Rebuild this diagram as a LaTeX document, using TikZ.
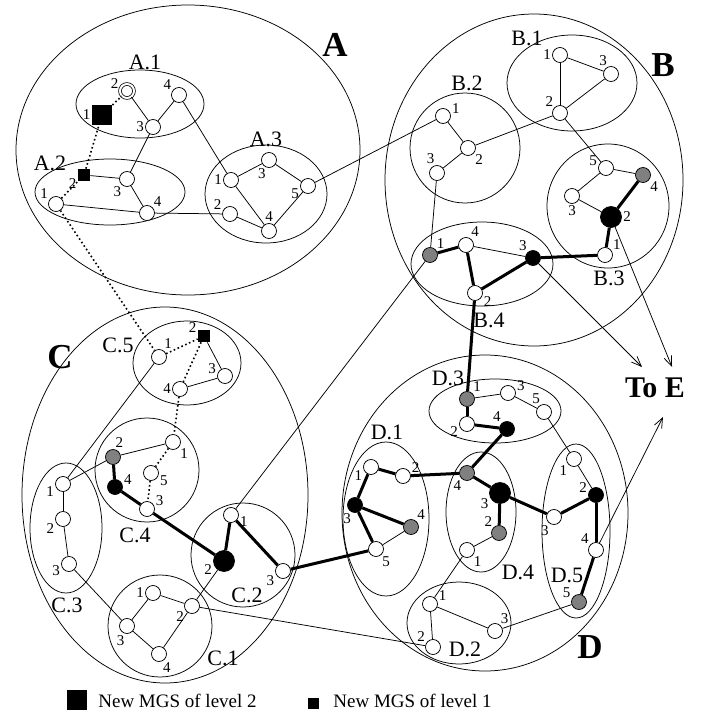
\documentclass[tikz,border=0pt]{standalone}
\usepackage{fontspec}
\setmainfont{Liberation Serif}
\usetikzlibrary{shapes.geometric,arrows.meta}
\tikzset{
v/.style={circle, draw, fill=white, minimum size=15pt, inner sep=0pt},
g/.style={v, fill=gray},
b/.style={v, fill=black},
bb/.style={v, fill=black, minimum size=21pt},
dv/.style={v, minimum size=14pt, double, double distance=2pt},
sq/.style={rectangle, fill=black, minimum size=20pt, inner sep=0pt},
sqs/.style={sq, minimum size=12pt},
grp/.style={ellipse, draw, inner sep=0pt},
num/.style={font=\fontsize{15}{15}\selectfont, inner sep=1pt},
grplbl/.style={font=\fontsize{22}{22}\selectfont, inner sep=0pt},
biglbl/.style={font=\fontsize{35}{35}\selectfont\bfseries, inner sep=0pt},
keytext/.style={font=\fontsize{19}{19}\selectfont, anchor=west, inner sep=0pt},
heavy/.style={line width=3pt},
dots/.style={line width=1.6pt, dash pattern=on 1.6pt off 2.6pt},
arrow/.style={->, >={Straight Barb[length=10pt,width=8pt]}},
}

\begin{document}
\begin{tikzpicture}[x=1pt, y=-1pt, line width=0.75pt]
\useasboundingbox (0,0) rectangle (703,715);

% clusters
\node[grp, minimum width=344, minimum height=290] (ell_a) at (188,150) {};
\node[grp, minimum width=298, minimum height=332] (ell_b) at (534,180) {};
\node[grp, minimum width=286, minimum height=376] (ell_c) at (165,495) {};
\node[grp, minimum width=286, minimum height=316] (ell_d) at (485,513) {};

\node[grp, minimum width=128, minimum height=68] (ell_a1) at (140,104) {};
\node[grp, minimum width=150, minimum height=66] (ell_a2) at (110,192) {};
\node[grp, minimum width=122, minimum height=98] (ell_a3) at (266,194) {};
\node[grp, minimum width=130, minimum height=96] (ell_b1) at (572,83) {};
\node[grp, minimum width=110, minimum height=110] (ell_b2) at (465,148) {};
\node[grp, minimum width=122, minimum height=124] (ell_b3) at (608,206) {};
\node[grp, minimum width=142, minimum height=84] (ell_b4) at (482,264) {};
\node[grp, minimum width=108, minimum height=84] (ell_c5) at (187,363) {};
\node[grp, minimum width=104, minimum height=104] (ell_c4) at (147,470) {};
\node[grp, minimum width=72, minimum height=130] (ell_c3) at (66,528) {};
\node[grp, minimum width=104, minimum height=104] (ell_c2) at (243,555) {};
\node[grp, minimum width=104, minimum height=102] (ell_c1) at (160,626) {};
\node[grp, minimum width=132, minimum height=64] (ell_d3) at (495,411) {};
\node[grp, minimum width=86, minimum height=154] (ell_d1) at (386,519) {};
\node[grp, minimum width=70, minimum height=120] (ell_d4) at (481,512) {};
\node[grp, minimum width=68, minimum height=174] (ell_d5) at (576,531) {};
\node[grp, minimum width=104, minimum height=82] (ell_d2) at (459,623) {};

\node[biglbl] (lbl_a) at (335,45) {A};
\node[biglbl] (lbl_b) at (663,65) {B};
\node[biglbl] (lbl_c) at (60,357) {C};
\node[biglbl] (lbl_d) at (590,647) {D};
\node[biglbl, font=\fontsize{30}{30}\selectfont\bfseries] (to_e) at (655,388) {To E};

\node[grplbl] (lbl_a1) at (145,62) {A.1};
\node[grplbl] (lbl_a2) at (50,163) {A.2};
\node[grplbl] (lbl_a3) at (266,139) {A.3};
\node[grplbl] (lbl_b1) at (527,38) {B.1};
\node[grplbl] (lbl_b2) at (467,83) {B.2};
\node[grplbl] (lbl_b3) at (609,278) {B.3};
\node[grplbl] (lbl_b4) at (489,320) {B.4};
\node[grplbl] (lbl_c5) at (118,345) {C.5};
\node[grplbl] (lbl_c4) at (135,535) {C.4};
\node[grplbl] (lbl_c3) at (67,605) {C.3};
\node[grplbl] (lbl_c2) at (247,595) {C.2};
\node[grplbl] (lbl_c1) at (223,658) {C.1};
\node[grplbl] (lbl_d3) at (448,378) {D.3};
\node[grplbl] (lbl_d1) at (387,432) {D.1};
\node[grplbl] (lbl_d4) at (518,572) {D.4};
\node[grplbl] (lbl_d5) at (567,575) {D.5};
\node[grplbl] (lbl_d2) at (465,649) {D.2};

% vertices
\node[sq, label={[num]180:1}] (a1_1) at (102,115) {};
\node[dv, label={[num]170:2}] (a1_2) at (127,91) {};
\node[v, label={[num]180:3}] (a1_3) at (153,127) {};
\node[v, label={[num]145:4}] (a1_4) at (179,95) {};
\node[v, label={[num]150:1}] (a2_1) at (56,204) {};
\node[sqs, label={[num]200:2}] (a2_2) at (84,175) {};
\node[v, label={[num]235:3}] (a2_3) at (127,179) {};
\node[v, label={[num]45:4}] (a2_4) at (147,213) {};
\node[v, label={[num]180:1}] (a3_1) at (231,180) {};
\node[v, label={[num]155:2}] (a3_2) at (230,214) {};
\node[v, label={[num]255:3}] (a3_3) at (269,160) {};
\node[v, label={[num]90:4}] (a3_4) at (269,231) {};
\node[v, label={[num]190:5}] (a3_5) at (308,186) {};

\node[v, label={[num]180:1}] (b1_1) at (560,55) {};
\node[v, label={[num]135:2}] (b1_2) at (560,113) {};
\node[v, label={[num]110:3}] (b1_3) at (611,74) {};
\node[v, label={[num]10:1}] (b2_1) at (443,116) {};
\node[v, label={[num]-40:2}] (b2_2) at (468,148) {};
\node[v, label={[num]100:3}] (b2_3) at (437,173) {};
\node[v, label={[num]30:1}] (b3_1) at (605,255) {};
\node[bb, label={[num]0:2}] (b3_2) at (611,217) {};
\node[v, label={[num]270:3}] (b3_3) at (572,196) {};
\node[g, label={[num]-40:4}] (b3_4) at (643,175) {};
\node[v, label={[num]170:5}] (b3_5) at (606,168) {};
\node[g, label={[num]45:1}] (b4_1) at (430,255) {};
\node[v, label={[num]-15:2}] (b4_2) at (475,293) {};
\node[b, label={[num]130:3}] (b4_3) at (533,258) {};
\node[v, label={[num]60:4}] (b4_4) at (466,245) {};

\node[v, label={[num]60:1}] (c5_1) at (159,357) {};
\node[sqs, label={[num]165:2}] (c5_2) at (204,336) {};
\node[v, label={[num]175:3}] (c5_3) at (225,376) {};
\node[v, label={[num]180:4}] (c5_4) at (180,389) {};
\node[v, label={[num]-40:1}] (c4_1) at (173,442) {};
\node[g, label={[num]80:2}] (c4_2) at (113,457) {};
\node[v, label={[num]15:3}] (c4_3) at (147,509) {};
\node[b, label={[num]10:4}] (c4_4) at (115,487) {};
\node[v, label={[num]-10:5}] (c4_5) at (151,473) {};
\node[v, label={[num]190:1}] (c3_1) at (63,484) {};
\node[v, label={[num]200:2}] (c3_2) at (63,519) {};
\node[v, label={[num]185:3}] (c3_3) at (69,564) {};
\node[v, label={[num]-5:1}] (c2_1) at (231,515) {};
\node[bb, label={[num]190:2}] (c2_2) at (224,561) {};
\node[v, label={[num]200:3}] (c2_3) at (283,571) {};
\node[v, label={[num]180:1}] (c1_1) at (153,593) {};
\node[v, label={[num]210:2}] (c1_2) at (192,606) {};
\node[v, label={[num]260:3}] (c1_3) at (127,626) {};
\node[v, label={[num]-70:4}] (c1_4) at (159,654) {};

\node[g, label={[num]50:1}] (d3_1) at (467,399) {};
\node[v, label={[num]190:2}] (d3_2) at (467,424) {};
\node[v, label={[num]10:3}] (d3_3) at (508,393) {};
\node[b, label={[num]130:4}] (d3_4) at (507,429) {};
\node[v, label={[num]110:5}] (d3_5) at (544,412) {};
\node[v, label={[num]195:1}] (d1_1) at (371,467) {};
\node[v, label={[num]15:2}] (d1_2) at (403,476) {};
\node[b, label={[num]250:3}] (d1_3) at (355,505) {};
\node[g, label={[num]50:4}] (d1_4) at (411,527) {};
\node[v, label={[num]-50:5}] (d1_5) at (376,549) {};
\node[v, label={[num]-45:1}] (d4_1) at (467,550) {};
\node[g, label={[num]135:2}] (d4_2) at (499,533) {};
\node[bb, label={[num]200:3}] (d4_3) at (500,493) {};
\node[g, label={[num]235:4}] (d4_4) at (467,473) {};
\node[v, label={[num]225:1}] (d5_1) at (574,459) {};
\node[b, label={[num]170:2}] (d5_2) at (596,495) {};
\node[v, label={[num]240:3}] (d5_3) at (554,517) {};
\node[v, label={[num]140:4}] (d5_4) at (596,550) {};
\node[g, label={[num]155:5}] (d5_5) at (579,602) {};
\node[v, label={[num]15:1}] (d2_1) at (430,604) {};
\node[v, label={[num]150:2}] (d2_2) at (433,647) {};
\node[v, label={[num]55:3}] (d2_3) at (495,631) {};

\coordinate (e_left) at (642,367);
\coordinate (e_right) at (672,367);
\coordinate (e_low) at (663,417);

% legend
\node[sq] (key_big) at (77,700) {};
\node[keytext] (key_big_txt) at (98,701) {New MGS of level 2};
\node[sqs, minimum size=11pt] (key_small) at (313,703) {};
\node[keytext] (key_small_txt) at (333,701) {New MGS of level 1};

% links
\draw (a1_2) -- (a1_3);
\draw (a1_3) -- (a1_4);
\draw [dots] (a1_1) -- (a1_2);
\draw (a2_2) -- (a2_3);
\draw (a2_3) -- (a2_4);
\draw (a2_1) -- (a2_4);
\draw [dots] (a2_1) -- (a2_2);
\draw [dots] (a2_2) -- (a1_1);
\draw (a3_1) -- (a3_3);
\draw (a3_3) -- (a3_5);
\draw (a3_5) -- (a3_4);
\draw (a3_1) -- (a3_4);
\draw (a3_2) -- (a3_4);
\draw (a1_3) -- (a2_3);
\draw (a1_4) -- (a3_1);
\draw (a2_4) -- (a3_2);
\draw (a3_5) -- (b2_1);
\draw [dots] (a2_1) -- (c5_1);

\draw (b1_1) -- (b1_2);
\draw (b1_1) -- (b1_3);
\draw (b1_2) -- (b1_3);
\draw (b2_1) -- (b2_2);
\draw (b2_2) -- (b2_3);
\draw (b3_5) -- (b3_4);
\draw (b3_5) -- (b3_3);
\draw (b3_3) -- (b3_2);
\draw [heavy] (b3_2) -- (b3_4);
\draw [heavy] (b3_2) -- (b3_1);
\draw [heavy] (b4_1) -- (b4_4);
\draw [heavy] (b4_4) -- (b4_2);
\draw [heavy] (b4_2) -- (b4_3);
\draw (b4_4) -- (b4_3);
\draw (b1_2) -- (b2_2);
\draw (b1_2) -- (b3_5);
\draw (b2_3) -- (b4_1);
\draw [heavy] (b4_3) -- (b3_1);
\draw [heavy] (b4_2) -- (d3_1);
\draw (b4_1) -- (c2_1);
\draw [arrow] (b4_3) -- (e_left);
\draw [arrow] (b3_2) -- (e_right);
\draw [arrow] (d5_4) -- (e_low);

\draw [dots] (c5_1) -- (c5_2);
\draw [dots] (c5_2) -- (c5_4);
\draw (c5_2) -- (c5_3);
\draw (c5_3) -- (c5_4);
\draw (c4_2) -- (c4_1);
\draw [heavy] (c4_2) -- (c4_4);
\draw [heavy] (c4_4) -- (c4_3);
\draw [dots] (c4_1) -- (c4_5);
\draw [dots] (c4_5) -- (c4_3);
\draw [dots] (c5_4) -- (c4_1);
\draw (c5_1) -- (c3_1);
\draw (c3_1) -- (c4_2);
\draw [heavy] (c4_3) -- (c2_2);
\draw (c3_1) -- (c3_2);
\draw (c3_2) -- (c3_3);
\draw (c3_3) -- (c1_3);
\draw [heavy] (c2_1) -- (c2_2);
\draw [heavy] (c2_1) -- (c2_3);
\draw [heavy] (c2_3) -- (d1_5);
\draw (c2_2) -- (c1_2);
\draw (c1_1) -- (c1_2);
\draw (c1_2) -- (c1_4);
\draw (c1_4) -- (c1_3);
\draw (c1_3) -- (c1_1);
\draw (c1_2) -- (d2_2);

\draw (d3_1) -- (d3_3);
\draw (d3_3) -- (d3_5);
\draw [heavy] (d3_1) -- (d3_2);
\draw [heavy] (d3_2) -- (d3_4);
\draw [heavy] (d3_4) -- (d4_4);
\draw (d3_5) -- (d5_1);
\draw [heavy] (d1_1) -- (d1_2);
\draw [heavy] (d1_1) -- (d1_3);
\draw [heavy] (d1_3) -- (d1_4);
\draw [heavy] (d1_3) -- (d1_5);
\draw (d1_5) -- (d1_4);
\draw [heavy] (d1_2) -- (d4_4);
\draw [heavy] (d4_4) -- (d4_3);
\draw [heavy] (d4_3) -- (d4_2);
\draw (d4_2) -- (d4_1);
\draw [heavy] (d4_3) -- (d5_3);
\draw (d4_1) -- (d2_1);
\draw (d5_1) -- (d5_2);
\draw [heavy] (d5_2) -- (d5_4);
\draw [heavy] (d5_2) -- (d5_3);
\draw [heavy] (d5_4) -- (d5_5);
\draw (d5_5) -- (d2_3);
\draw (d2_1) -- (d2_3);
\draw (d2_1) -- (d2_2);
\end{tikzpicture}
\end{document}
